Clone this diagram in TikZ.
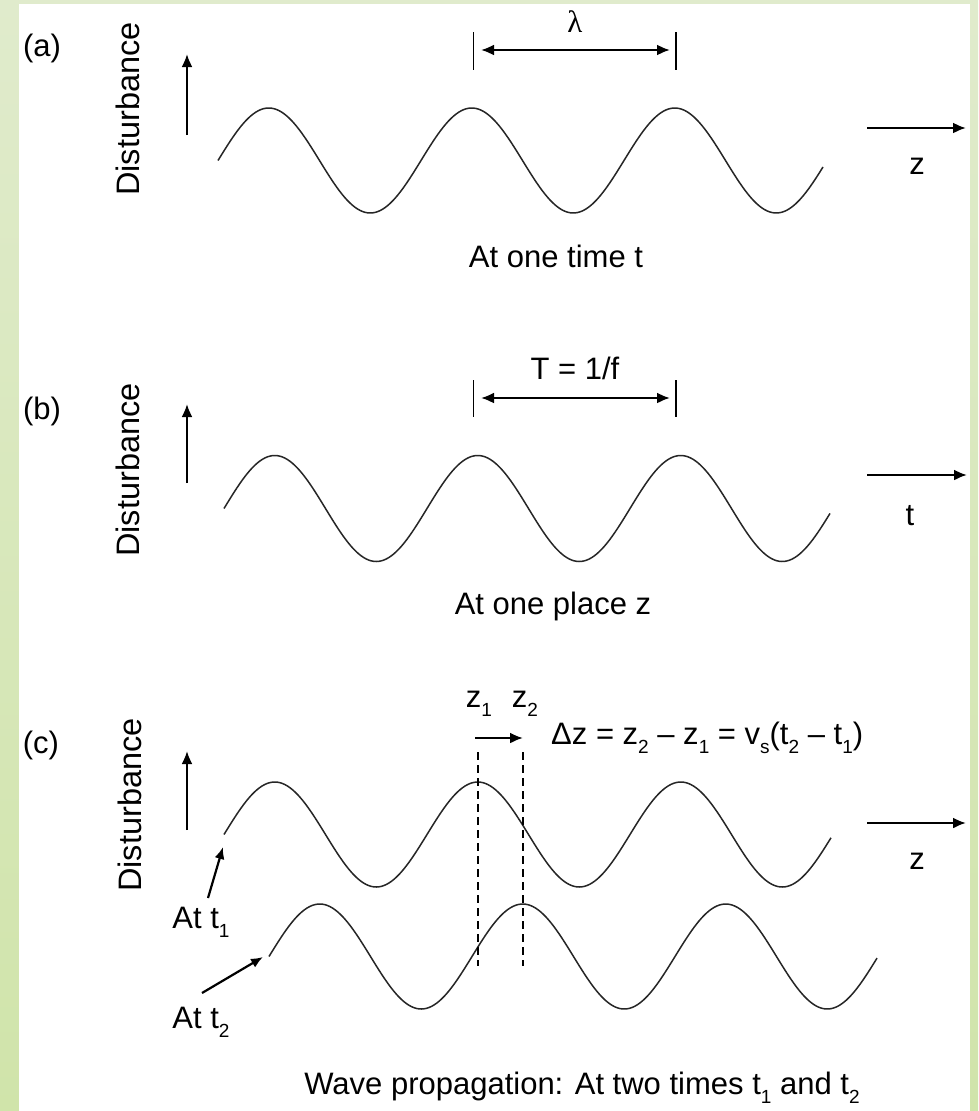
\documentclass[tikz,border=0pt]{standalone}
\usepackage{fontspec}
\setmainfont{Liberation Sans}
\newfontfamily\symfont{Liberation Serif}
\usetikzlibrary{arrows.meta}
\definecolor{bgtop}{RGB}{224,235,204}
\definecolor{bgbot}{RGB}{208,228,170}
\newcommand\sbs[1]{\raisebox{-0.28em}{\fontsize{19}{20}\selectfont #1}}
\begin{document}
\begin{tikzpicture}[x=1pt,y=-1pt,
  lbl/.style={font=\fontsize{31}{36}\selectfont, inner sep=0pt},
  dist/.style={font=\fontsize{32.5}{36}\selectfont, inner sep=0pt, rotate=90},
  wave/.style={line width=1.5pt, black!85},
  axisarrow/.style={line width=2.2pt, -{Latex[length=13pt,width=11pt]}},
  dimarrow/.style={line width=2.2pt, {Latex[length=13pt,width=11pt]}-{Latex[length=13pt,width=11pt]}},
  ticka/.style={line width=1pt},
  tickb/.style={line width=2pt},
  vdash/.style={line width=1.4pt, dash pattern=on 8pt off 5pt},
  ptr/.style={line width=2.2pt, -{Latex[length=12pt,width=10pt]}}
]
\useasboundingbox (0,0) rectangle (978,1111);
\fill[top color=bgtop, bottom color=bgbot] (0,0) rectangle (978,1111);
\fill[white] (19,4) rectangle (970,1111);

% ---------------- panel (a)
\node[lbl] (la) at (42,48) {(a)};
\node[dist] (dista) at (128,109) {Disturbance};
\coordinate (ua0) at (187,135); \coordinate (ua1) at (187,54);
\draw[axisarrow] (ua0) -- (ua1);
\draw[wave] plot[domain=218:823, samples=240] (\x, {160.5 - 52.5*sin((\x-218)/203*360)});
\coordinate (ta0) at (473,32); \coordinate (ta1) at (473,70);
\coordinate (tb0) at (676,32); \coordinate (tb1) at (676,70);
\draw[ticka] (ta0) -- (ta1);
\draw[tickb] (tb0) -- (tb1);
\coordinate (da0) at (481,50); \coordinate (da1) at (670,50);
\draw[dimarrow] (da0) -- (da1);
\node[lbl, font=\symfont\fontsize{31}{36}\selectfont] (lam) at (575,22) {λ};
\coordinate (za0) at (867,128); \coordinate (za1) at (966,128);
\draw[axisarrow] (za0) -- (za1);
\node[lbl] (za) at (917,166) {z};
\node[lbl] (capa) at (556,256) {At one time t};

% ---------------- panel (b)
\node[lbl] (lb) at (42,411) {(b)};
\node[dist] (distb) at (128,470) {Disturbance};
\coordinate (ub0) at (187,483); \coordinate (ub1) at (187,404);
\draw[axisarrow] (ub0) -- (ub1);
\draw[wave] plot[domain=224:830, samples=240] (\x, {508.5 - 53*sin((\x-224)/203*360)});
\coordinate (tc0) at (473,380); \coordinate (tc1) at (473,417);
\coordinate (td0) at (676,380); \coordinate (td1) at (676,417);
\draw[ticka] (tc0) -- (tc1);
\draw[tickb] (td0) -- (td1);
\coordinate (db0) at (481,398); \coordinate (db1) at (670,398);
\draw[dimarrow] (db0) -- (db1);
\node[lbl] (per) at (575,368) {T = 1/f};
\coordinate (zb0) at (867,475); \coordinate (zb1) at (967,475);
\draw[axisarrow] (zb0) -- (zb1);
\node[lbl] (tb) at (910,516) {t};
\node[lbl] (capb) at (553,606) {At one place z};

% ---------------- panel (c)
\node[lbl] (lc) at (41,745) {(c)};
\node[dist] (distc) at (130,805) {Disturbance};
\coordinate (uc0) at (187,830); \coordinate (uc1) at (187,751);
\draw[axisarrow] (uc0) -- (uc1);
\draw[wave] plot[domain=224:831, samples=240] (\x, {834.5 - 52.5*sin((\x-224)/203*360)});
\draw[wave] plot[domain=269:877, samples=240] (\x, {956.5 - 52.5*sin((\x-269)/203*360)});
\coordinate (v10) at (478,752); \coordinate (v11) at (478,966);
\coordinate (v20) at (523,752); \coordinate (v21) at (523,966);
\draw[vdash] (v10) -- (v11);
\draw[vdash] (v20) -- (v21);
\node[lbl] (z1) at (479,704) {z\sbs{1}};
\node[lbl] (z2) at (525,704) {z\sbs{2}};
\coordinate (dz0) at (475,738); \coordinate (dz1) at (523,738);
\draw[axisarrow] (dz0) -- (dz1);
\node[lbl, anchor=west] (eq) at (551,738) {Δz = z\sbs{2} – z\sbs{1} = v\sbs{s}(t\sbs{2} – t\sbs{1})};
\coordinate (zc0) at (867,823); \coordinate (zc1) at (966,823);
\draw[axisarrow] (zc0) -- (zc1);
\node[lbl] (zc) at (917,861) {z};
\node[lbl] (at1) at (201,922) {At t\sbs{1}};
\node[lbl] (at2) at (201,1022) {At t\sbs{2}};
\coordinate (p1a) at (208,898); \coordinate (p1b) at (223,847);
\draw[ptr] (p1a) -- (p1b);
\coordinate (p2a) at (202,993); \coordinate (p2b) at (263,957);
\draw[ptr] (p2a) -- (p2b);
\node[lbl] (capc) at (582,1088) {Wave propagation: At two times t\sbs{1} and t\sbs{2}};
\end{tikzpicture}
\end{document}
